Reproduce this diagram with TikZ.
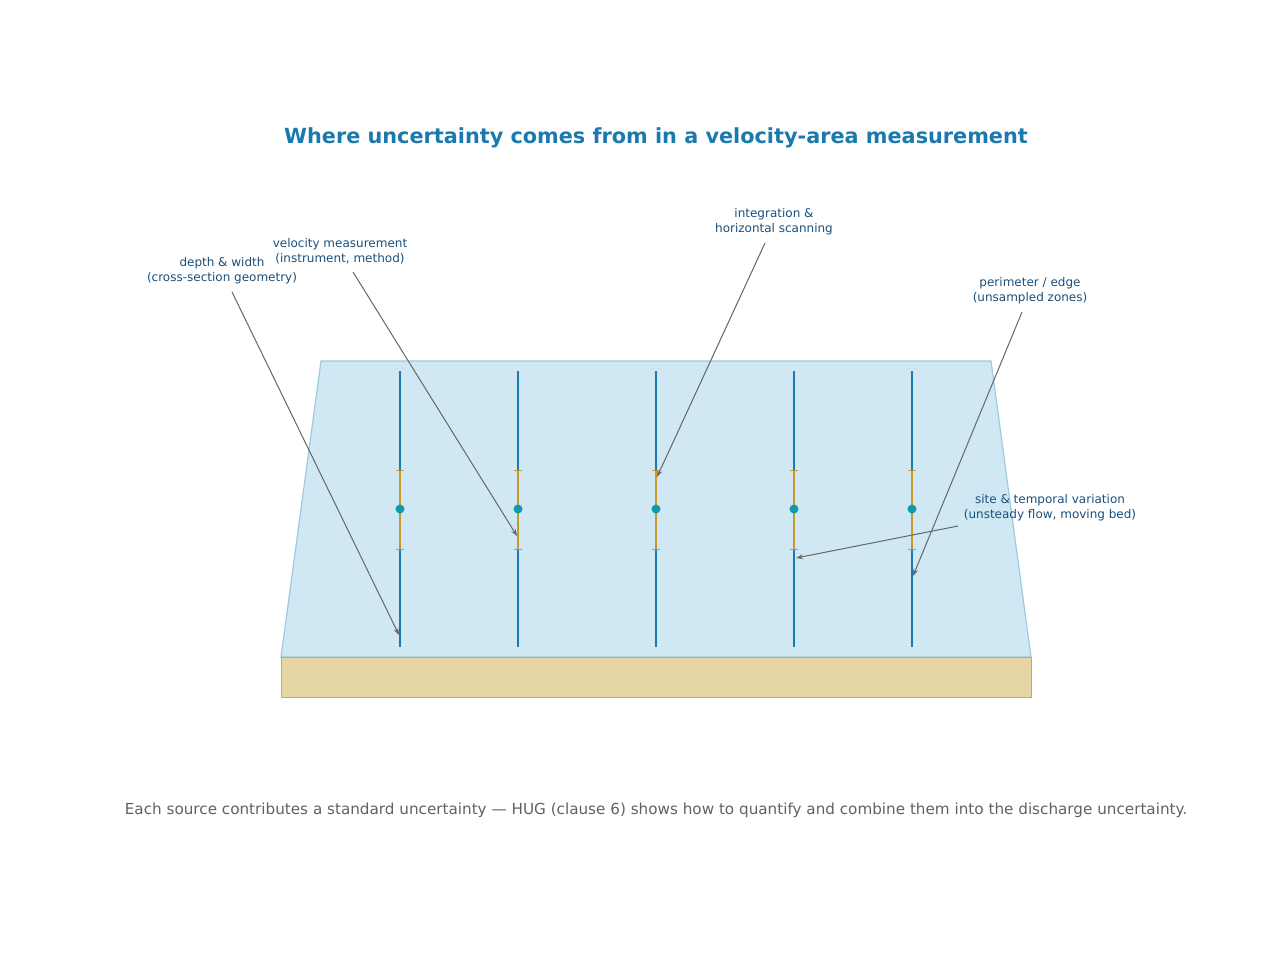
\documentclass[tikz,border=0pt]{standalone}
\usepackage{fontspec}
\setmainfont{DejaVu Sans}
\usetikzlibrary{arrows.meta}
\begin{document}
\begin{tikzpicture}[x=1pt,y=-1pt,
  lbl/.style={font=\fontsize{12}{15}\selectfont,align=center,inner sep=1pt},
  ann/.style={draw=black!60,line width=1pt,-{Stealth[length=7pt,width=5pt]}}]
\useasboundingbox (0,0) rectangle (1280,960);
\definecolor{water}{HTML}{D0E8F3}
\definecolor{waterb}{HTML}{9ECAE0}
\definecolor{bed}{HTML}{E6D5A5}
\definecolor{bedb}{HTML}{C4A968}
\definecolor{vcol}{HTML}{1A7AAE}
\definecolor{ecol}{HTML}{C49A2E}
\definecolor{dcol}{HTML}{0E9AAE}
\definecolor{lcol}{HTML}{1A4F7A}
\tikzset{vert/.style={draw=vcol,line width=1.8pt},err/.style={draw=ecol,line width=1.8pt},lbl/.append style={text=lcol}}
\node[font=\bfseries\fontsize{20.8}{24}\selectfont,text=vcol] (title) at (656,138) {Where uncertainty comes from in a velocity-area measurement};
\fill[water,draw=waterb,line width=1.2pt] (321,361) -- (991,361) -- (1031,657) -- (281,657) -- cycle;
\fill[bed,draw=bedb,line width=1pt] (281,657) rectangle (1031,697);
\foreach \i/\x in {1/400,2/518,3/656,4/794,5/912}{
  \coordinate (t\i) at (\x,371); \coordinate (b\i) at (\x,647);
  \draw[vert] (t\i) -- (b\i);
  \draw[err] (\x,470) -- (\x,549);
  \draw[ecol,line width=1pt] (\x-4,470) -- (\x+4,470) (\x-4,549) -- (\x+4,549);
  \fill[dcol] (\x,509) circle (4.5);
}
\coordinate (pd) at (399,635);
\coordinate (pv) at (517,536);
\coordinate (pi) at (657,477);
\coordinate (pp) at (913,576);
\coordinate (ps) at (796,558);
\node[lbl] (ld) at (222,271) {depth \& width\\(cross-section geometry)};
\node[lbl] (lv) at (340,251) {velocity measurement\\(instrument, method)};
\node[lbl] (li) at (774,222) {integration \&\\horizontal scanning};
\node[lbl] (lp) at (1030,291) {perimeter / edge\\(unsampled zones)};
\node[lbl] (ls) at (1050,508) {site \& temporal variation\\(unsteady flow, moving bed)};
\draw[ann] (232,292) -- (pd);
\draw[ann] (353,272) -- (pv);
\draw[ann] (765,243) -- (pi);
\draw[ann] (1022,312) -- (pp);
\draw[ann] (958,526) -- (ps);
\node[font=\fontsize{15.2}{18}\selectfont,text=black!62] (cap) at (656,810) {Each source contributes a standard uncertainty — HUG (clause 6) shows how to quantify and combine them into the discharge uncertainty.};
\end{tikzpicture}
\end{document}
